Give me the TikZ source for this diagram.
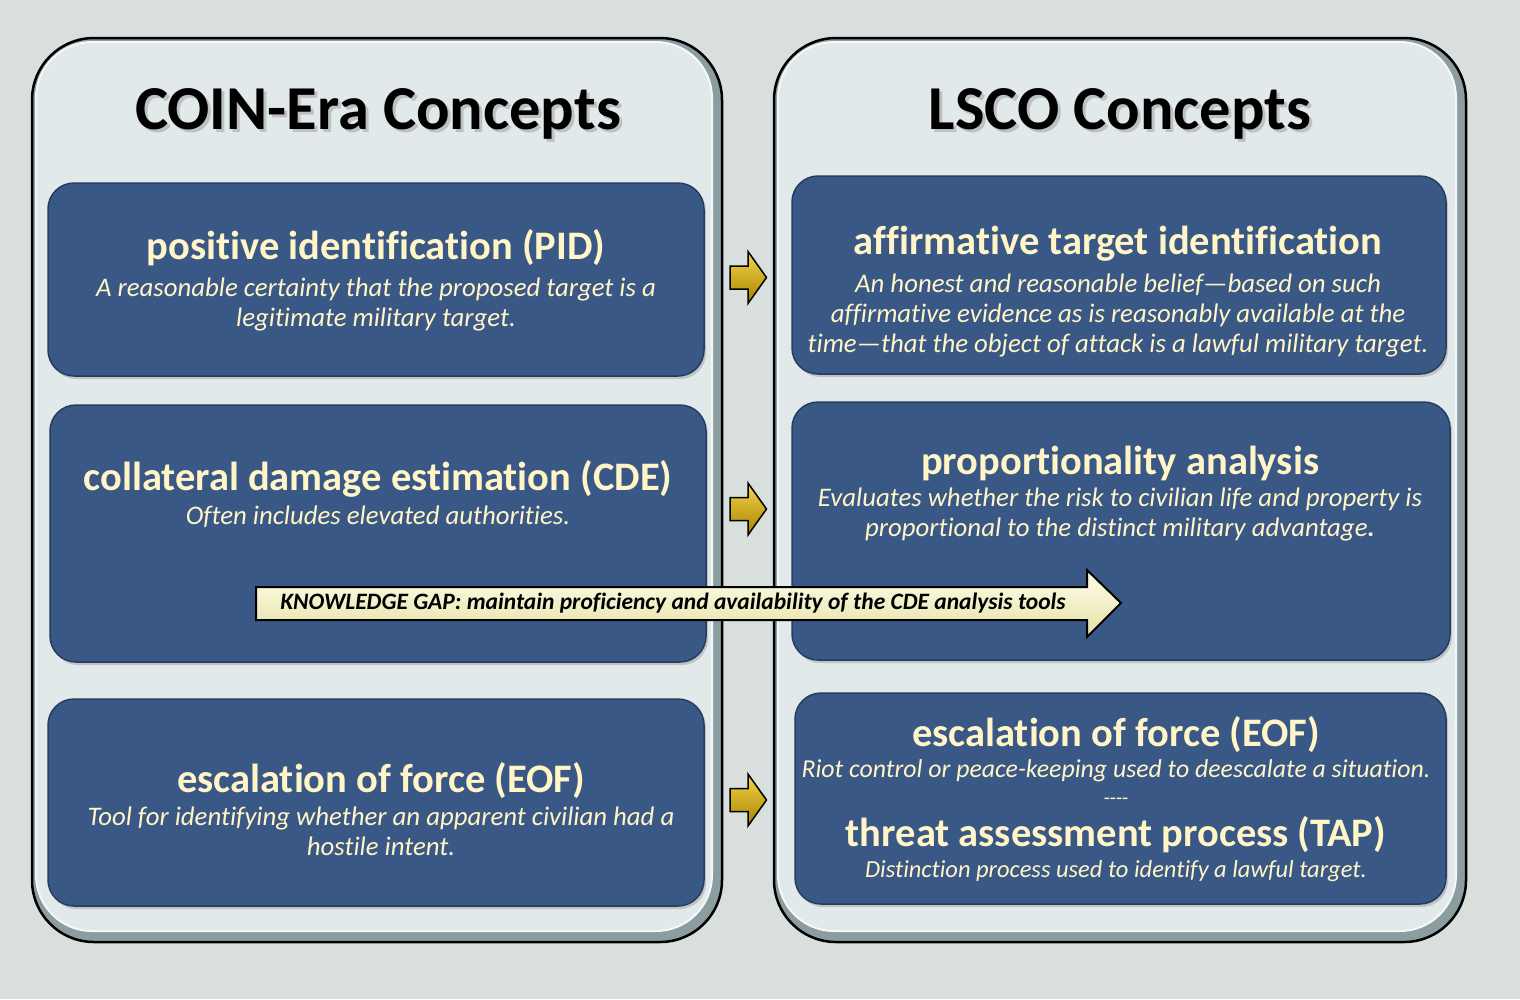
\documentclass[tikz,border=0pt]{standalone}
\usepackage{fontspec}
\setmainfont{Carlito}[Ligatures={NoCommon}]
\usetikzlibrary{shadows}
\definecolor{bg}{HTML}{D9DFDD}
\definecolor{paneldark}{HTML}{8C9DA1}
\definecolor{panelfill}{HTML}{E2E9EB}
\definecolor{panelhi}{HTML}{F4F8F9}
\definecolor{boxblue}{HTML}{3A5886}
\definecolor{boxedge}{HTML}{263D5E}
\definecolor{cream}{HTML}{FFF5C6}
\definecolor{goldtop}{HTML}{F2D54A}
\definecolor{goldbot}{HTML}{A88400}
\definecolor{kgtop}{HTML}{FFFFEA}
\definecolor{kgbot}{HTML}{E4E0A6}
\tikzset{
  panelouter/.style={fill=paneldark, draw=black, line width=2.5pt, rounded corners=62pt},
  panelinner/.style={fill=panelfill, draw=panelhi, line width=2pt, rounded corners=56pt},
  bluebox/.style={fill=boxblue, draw=boxedge, line width=1.5pt, rounded corners=26pt,
    drop shadow={opacity=0.35, shadow xshift=2pt, shadow yshift=-3pt}},
  head/.style={text=cream, font=\fontsize{40.5}{46}\selectfont\bfseries, inner sep=0pt},
  desc/.style={text=cream, font=\fontsize{26.8}{30}\selectfont\itshape, align=center, inner sep=0pt},
  titletext/.style={font=\fontsize{62.5}{70}\selectfont\bfseries, inner sep=0pt},
  goldarrow/.style={top color=goldtop, bottom color=goldbot, draw=black, line width=1.5pt, line join=miter},
  kgarrow/.style={top color=kgtop, bottom color=kgbot, draw=black, line width=2pt, line join=miter},
  kgtext/.style={font=\fontsize{23.5}{26}\selectfont\bfseries\itshape, inner sep=0pt}
}
\begin{document}
\begin{tikzpicture}[x=1pt,y=-1pt]
\useasboundingbox (0,0) rectangle (1520,999);
\fill[bg] (0,0) rectangle (1520,999);

% panels
\path[panelouter] (32,38) rectangle (722,942);
\path[panelinner] (36,42) rectangle (712,931);
\path[panelouter] (774,38) rectangle (1466,942);
\path[panelinner] (778,42) rectangle (1456,931);

% titles
\node[titletext, text=black!35, opacity=0.6] at (381,117) {COIN-Era Concepts};
\node[titletext] (tl) at (378,114) {COIN-Era Concepts};
\node[titletext, text=black!35, opacity=0.6] at (1123,117) {LSCO Concepts};
\node[titletext] (tr) at (1120,114) {LSCO Concepts};

% boxes
\path[bluebox] (48,183) rectangle (704,376);
\path[bluebox] (50,405) rectangle (706,662);
\path[bluebox] (48,699) rectangle (704,906);
\path[bluebox] (792,176) rectangle (1446,374);
\path[bluebox] (792,402) rectangle (1450,660);
\path[bluebox] (795,693) rectangle (1446,904);

% left texts
\node[head] (pidh) at (376,248) {positive identification (PID)};
\node[desc] (pidd) at (376,304) {A reasonable certainty that the proposed target is a\\legitimate military target.};
\node[head] (cdeh) at (378,479) {collateral damage estimation (CDE)};
\node[desc] (cded) at (378,517) {Often includes elevated authorities.};
\node[head] (eofh) at (381,781) {escalation of force (EOF)};
\node[desc] (eofd) at (381,831) {Tool for identifying whether an apparent civilian had a\\hostile intent.};

% right texts
\node[head] (ati) at (1118,244) {affirmative target identification};
\node[desc] (atid) at (1118,315) {An honest and reasonable belief\textemdash based on such\\affirmative evidence as is reasonably available at the\\time\textemdash that the object of attack is a lawful military target.};
\node[head] (pa) at (1120,463) {proportionality analysis};
\node[desc] (pad) at (1120,514) {Evaluates whether the risk to civilian life and property is\\proportional to the distinct military advantage{\bfseries.}};
\node[head] (eofr) at (1116,735) {escalation of force (EOF)};
\node[desc, font=\fontsize{25.8}{30}\selectfont\itshape] (eofrd) at (1116,771) {Riot control or peace-keeping used to deescalate a situation.};
\node[desc, font=\fontsize{20}{24}\selectfont] (sep) at (1116,801) {-{}-{}-{}-};
\node[head] (tap) at (1116,835) {threat assessment process (TAP)};
\node[desc, font=\fontsize{24.5}{30}\selectfont\itshape] (tapd) at (1116,871) {Distinction process used to identify a lawful target.};

% small gold arrows
\foreach \yy in {277.5,509,800}{
  \path[goldarrow] (730,\yy-11.5) -- (748,\yy-11.5) -- (748,\yy-26) -- (766.5,\yy)
    -- (748,\yy+26) -- (748,\yy+11.5) -- (730,\yy+11.5) -- cycle;
}

% knowledge gap arrow
\path[kgarrow] (256,587) -- (1087,587) -- (1087,570) -- (1121,603) -- (1087,637)
  -- (1087,620) -- (256,620) -- cycle;
\node[kgtext] (kg) at (673,603) {KNOWLEDGE GAP: maintain proficiency and availability of the CDE analysis tools};
\end{tikzpicture}
\end{document}
